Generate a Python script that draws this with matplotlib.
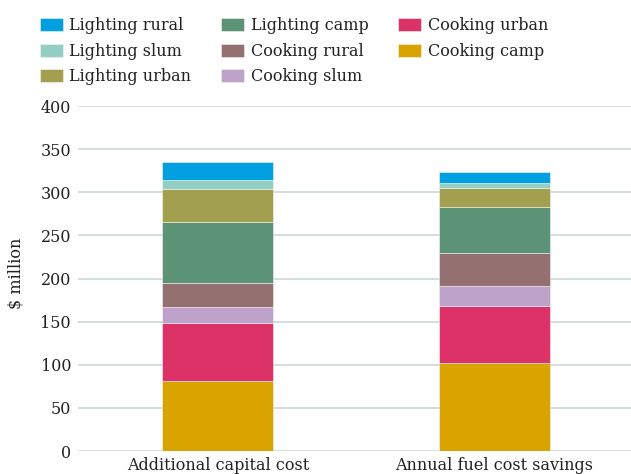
import matplotlib.pyplot as plt
import numpy as np

# categories on the x axis
categories = ['Additional capital cost', 'Annual fuel cost savings']

# stacked series, bottom to top ($ million)
series_names = ['Cooking camp', 'Cooking urban', 'Cooking slum', 'Cooking rural',
                'Lighting camp', 'Lighting urban', 'Lighting slum', 'Lighting rural']
cooking_camp = [81.6, 102.4]
cooking_urban = [67.3, 66.2]
cooking_slum = [18.2, 22.8]
cooking_rural = [27.4, 38.0]
lighting_camp = [71.5, 53.7]
lighting_urban = [37.9, 22.4]
lighting_slum = [10.5, 5.4]
lighting_rural = [20.9, 12.4]

series_values = [cooking_camp, cooking_urban, cooking_slum, cooking_rural,
                 lighting_camp, lighting_urban, lighting_slum, lighting_rural]
colors = ['#d9a400', '#dc3268', '#bda2c9', '#947070',
          '#5c9276', '#a29f4e', '#92cec1', '#009fe0']

plt.rcParams['font.family'] = ['DejaVu Serif']

fig = plt.figure(figsize=(6.31, 4.74), dpi=100)
ax = fig.add_axes([0.1236, 0.0485, 0.8764, 0.7275])

x = np.arange(len(categories))
bottom = np.zeros(len(categories))
handles = []
for name, vals, col in zip(series_names, series_values, colors):
    b = ax.bar(x, vals, 0.401, bottom=bottom, color=col, label=name,
               edgecolor='#f4f4f4', linewidth=0.4, zorder=3)
    handles.append(b)
    bottom += np.array(vals)

ax.set_ylim(0, 400)
ax.set_xlim(-0.505, 1.493)
ax.set_yticks(np.arange(0, 401, 50))
ax.set_xticks(x)
ax.set_xticklabels(categories, fontsize=11.5)
ax.tick_params(axis='y', labelsize=11.5, length=0, pad=5, colors='#222222')
ax.tick_params(axis='x', length=0, pad=4, colors='#222222')
ax.grid(axis='y', color='#c9d4d4', linewidth=1.1, zorder=0)
for s in ax.spines.values():
    s.set_visible(False)
ax.set_ylabel('$ million', fontsize=11.5, color='#222222')
ax.yaxis.set_label_coords(-0.096, 0.516)

leg = fig.legend(handles[::-1], series_names[::-1], ncol=3,
                 loc='upper left', bbox_to_anchor=(0.04, 0.994),
                 frameon=False, fontsize=11.5, handlelength=1.44, handleheight=0.875,
                 handletextpad=0.42, columnspacing=1.85, labelspacing=0.54)
for t in leg.get_texts():
    t.set_color('#222222')

fig.savefig('out.png', dpi=100)
